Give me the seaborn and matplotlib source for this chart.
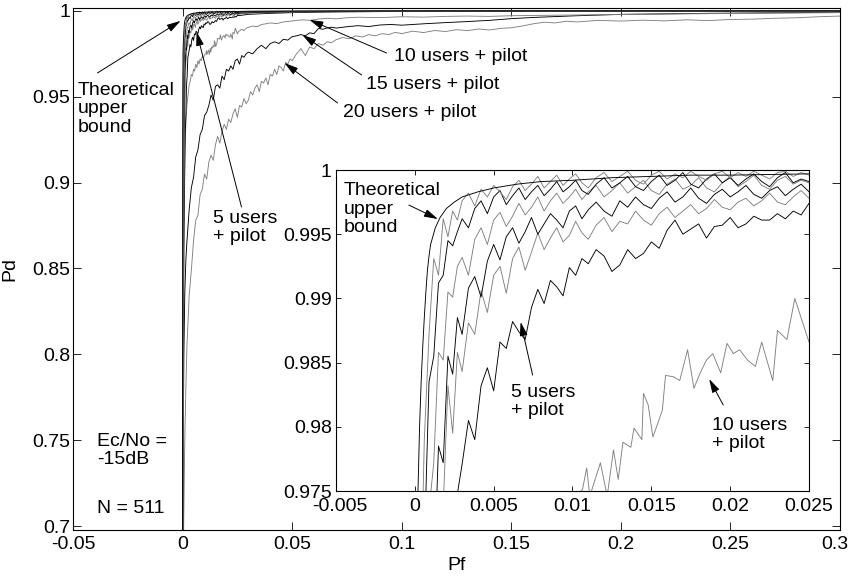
import matplotlib
matplotlib.use("Agg")
import matplotlib.pyplot as plt
import matplotlib.transforms as mtransforms
import seaborn as sns

# ---------------------------------------------------------------------------
# ROC data: probability of false alarm (Pf) vs probability of detection (Pd)
# ---------------------------------------------------------------------------

# Theoretical upper bound
pf_bound = [0.0, 0.00002, 0.00005, 0.0001, 0.0002, 0.0003, 0.0004, 0.0005, 0.0006, 0.0007,
            0.0008, 0.0009, 0.001, 0.0013, 0.0016, 0.002, 0.0025, 0.003, 0.004, 0.005,
            0.0065, 0.008, 0.01, 0.0125, 0.015, 0.0175, 0.02, 0.025, 0.03, 0.05,
            0.1, 0.2, 0.3]
pd_bound = [0.0, 0.80, 0.90, 0.95, 0.975, 0.9800, 0.9835, 0.9862, 0.9885, 0.9905,
            0.9922, 0.9933, 0.9942, 0.9955, 0.9963, 0.9970, 0.9975, 0.9979, 0.9983, 0.9986,
            0.9989, 0.9991, 0.9992, 0.9994, 0.9995, 0.9996, 0.9996, 0.9997, 0.9998, 0.9999,
            1.0, 1.0, 1.0]

# Common Pf thresholds for the lightly loaded cases (pilot only ... 5 users)
pf_grid = [0, 0.0003, 0.0006, 0.0009, 0.0012, 0.0015, 0.0018, 0.0021, 0.0024, 0.0027,
           0.003, 0.0034, 0.0038, 0.0042, 0.0046, 0.005, 0.0054, 0.0058, 0.0062, 0.0066,
           0.007, 0.0074, 0.0078, 0.0082, 0.0086, 0.009, 0.0094, 0.0098, 0.0102, 0.0106,
           0.011, 0.0115, 0.012, 0.0125, 0.013, 0.0135, 0.014, 0.0145, 0.015, 0.0155,
           0.016, 0.0165, 0.017, 0.0175, 0.018, 0.0185, 0.019, 0.0195, 0.02, 0.0205,
           0.021, 0.0215, 0.022, 0.0225, 0.023, 0.0235, 0.024, 0.0245, 0.025, 0.026,
           0.03, 0.04, 0.05, 0.07, 0.1, 0.15, 0.2, 0.25, 0.3]

pd_pilot = [0.0, 0.962, 0.979, 0.9872, 0.9931, 0.9918, 0.9962, 0.9948, 0.9968, 0.9961,
            0.9976, 0.9982, 0.9972, 0.9985, 0.9979, 0.9988, 0.9983, 0.9977, 0.9987, 0.9992,
            0.9984, 0.9989, 0.9995, 0.9986, 0.9991, 0.9996, 0.9988, 0.9993, 0.9997, 0.9990,
            0.9986, 0.9994, 0.9998, 0.9991, 0.9995, 0.9999, 0.9992, 0.9989, 0.9996, 0.9999,
            0.9993, 0.9997, 0.9994, 0.9999, 0.9995, 0.9992, 0.9997, 0.9999, 0.9994, 0.9998,
            0.9995, 0.9999, 0.9996, 0.9993, 0.9998, 0.9999, 0.9995, 0.9998, 0.9996, 0.9997,
            0.9998, 0.9999, 0.9999, 1.0, 1.0, 1.0, 1.0, 1.0, 1.0]

pd_1u = [0.0, 0.930, 0.9705, 0.9835, 0.9855, 0.9912, 0.9918, 0.9945, 0.9941, 0.9952,
         0.9962, 0.9955, 0.9970, 0.9976, 0.9966, 0.9979, 0.9984, 0.9973, 0.9980, 0.9986,
         0.9977, 0.9983, 0.9988, 0.9980, 0.9985, 0.9991, 0.9983, 0.9987, 0.9992, 0.9984,
         0.9981, 0.9989, 0.9994, 0.9986, 0.9990, 0.9995, 0.9987, 0.9984, 0.9991, 0.9996,
         0.9988, 0.9992, 0.9998, 0.9989, 0.9986, 0.9993, 0.9997, 0.9990, 0.9994, 0.9988,
         0.9993, 0.9997, 0.9991, 0.9987, 0.9994, 0.9998, 0.9990, 0.9993, 0.9991, 0.9993,
         0.9995, 0.9997, 0.9998, 0.9999, 1.0, 1.0, 1.0, 1.0, 1.0]

pd_2u = [0.0, 0.895, 0.952, 0.9735, 0.9772, 0.9858, 0.9852, 0.9905, 0.9901, 0.9925,
         0.9932, 0.9918, 0.9946, 0.9955, 0.9942, 0.9961, 0.9967, 0.9956, 0.9964, 0.9974,
         0.9965, 0.9971, 0.9979, 0.9968, 0.9976, 0.9982, 0.9974, 0.9979, 0.9985, 0.9977,
         0.9983, 0.9988, 0.9979, 0.9984, 0.9990, 0.9982, 0.9987, 0.9992, 0.9984, 0.9981,
         0.9989, 0.9993, 0.9985, 0.9988, 0.9994, 0.9986, 0.9983, 0.9990, 0.9995, 0.9987,
         0.9991, 0.9996, 0.9988, 0.9985, 0.9992, 0.9995, 0.9989, 0.9992, 0.9990, 0.9993,
         0.9994, 0.9996, 0.9997, 0.9998, 0.9999, 1.0, 1.0, 1.0, 1.0]

pd_3u = [0.0, 0.855, 0.926, 0.961, 0.9675, 0.9785, 0.9772, 0.9855, 0.9841, 0.9885,
         0.9872, 0.9908, 0.9917, 0.9901, 0.9929, 0.9942, 0.9930, 0.9948, 0.9955, 0.9943,
         0.9952, 0.9963, 0.9950, 0.9958, 0.9966, 0.9961, 0.9955, 0.9968, 0.9972, 0.9962,
         0.9969, 0.9975, 0.9968, 0.9964, 0.9976, 0.9971, 0.9979, 0.9973, 0.9970, 0.9978,
         0.9983, 0.9975, 0.9979, 0.9986, 0.9978, 0.9974, 0.9981, 0.9985, 0.9979, 0.9983,
         0.9988, 0.9981, 0.9978, 0.9984, 0.9987, 0.9980, 0.9985, 0.9989, 0.9983, 0.9987,
         0.9990, 0.9993, 0.9995, 0.9997, 0.9999, 1.0, 1.0, 1.0, 1.0]

pd_4u = [0.0, 0.825, 0.895, 0.938, 0.951, 0.9705, 0.9738, 0.9832, 0.9795, 0.9858,
         0.9843, 0.9881, 0.9872, 0.9906, 0.9889, 0.9918, 0.9925, 0.9904, 0.9931, 0.9940,
         0.9922, 0.9936, 0.9951, 0.9938, 0.9947, 0.9955, 0.9944, 0.9949, 0.9960, 0.9951,
         0.9946, 0.9957, 0.9963, 0.9952, 0.9960, 0.9958, 0.9968, 0.9961, 0.9957, 0.9966,
         0.9971, 0.9963, 0.9968, 0.9973, 0.9966, 0.9970, 0.9977, 0.9971, 0.9969, 0.9975,
         0.9978, 0.9972, 0.9976, 0.9982, 0.9975, 0.9973, 0.9979, 0.9984, 0.9978, 0.9982,
         0.9986, 0.9990, 0.9993, 0.9996, 0.9998, 0.9999, 1.0, 1.0, 1.0]

pd_5u = [0.0, 0.785, 0.862, 0.897, 0.928, 0.939, 0.957, 0.962, 0.9728, 0.9748,
         0.9771, 0.9805, 0.9790, 0.9832, 0.9846, 0.9828, 0.9866, 0.9861, 0.9882, 0.9874,
         0.9868, 0.9893, 0.9907, 0.9896, 0.9914, 0.9909, 0.9902, 0.9924, 0.9918, 0.9931,
         0.9927, 0.9938, 0.9933, 0.9921, 0.9926, 0.9938, 0.9931, 0.9935, 0.9944, 0.9939,
         0.9953, 0.9961, 0.9950, 0.9954, 0.9958, 0.9947, 0.9956, 0.9957, 0.9963, 0.9955,
         0.9958, 0.9964, 0.9961, 0.9961, 0.9966, 0.9962, 0.9968, 0.9965, 0.9974, 0.9973,
         0.9980, 0.9986, 0.9990, 0.9994, 0.9997, 0.9999, 1.0, 1.0, 1.0]

# 10 users + pilot
pf_10u = [0.0, 0.0003, 0.0006, 0.001, 0.0015, 0.002, 0.0025, 0.003, 0.0035, 0.004,
          0.0045, 0.005, 0.0055, 0.006, 0.0065, 0.007, 0.0075, 0.008, 0.0085, 0.009,
          0.0095, 0.010, 0.01063, 0.0109, 0.0111, 0.01177, 0.0122, 0.0126, 0.0129, 0.0132,
          0.0137, 0.0139, 0.0144, 0.0145, 0.0148, 0.0151, 0.0157, 0.0159, 0.0164, 0.0168,
          0.0173, 0.0177, 0.0181, 0.0185, 0.0189, 0.0194, 0.0198, 0.0202, 0.0206, 0.0211,
          0.0216, 0.0220, 0.0227, 0.0230, 0.0236, 0.0241, 0.0250, 0.0255, 0.027, 0.028,
          0.029, 0.030, 0.032, 0.034, 0.036, 0.038, 0.040, 0.043, 0.046, 0.049,
          0.052, 0.055, 0.058, 0.062, 0.066, 0.070, 0.075, 0.080, 0.090, 0.100,
          0.110, 0.120, 0.130, 0.140, 0.150, 0.170, 0.190, 0.210, 0.230, 0.250,
          0.270, 0.300]
pd_10u = [0.0, 0.80, 0.875, 0.915, 0.935, 0.945, 0.951, 0.957, 0.959, 0.963,
          0.962, 0.966, 0.965, 0.969, 0.967, 0.971, 0.969, 0.972, 0.971, 0.9735,
          0.9725, 0.9745, 0.9751, 0.9768, 0.9746, 0.9772, 0.9746, 0.9782, 0.9759, 0.9788,
          0.9784, 0.9799, 0.9790, 0.9826, 0.9817, 0.9792, 0.9813, 0.9840, 0.9839, 0.9836,
          0.9860, 0.9830, 0.9842, 0.9852, 0.9857, 0.9842, 0.9865, 0.9857, 0.9860, 0.9852,
          0.9847, 0.9866, 0.9836, 0.9875, 0.9868, 0.9900, 0.9866, 0.9880, 0.9893, 0.9885,
          0.9899, 0.9904, 0.9912, 0.9908, 0.9921, 0.9925, 0.9930, 0.9926, 0.9936, 0.9940,
          0.9945, 0.9948, 0.9945, 0.9953, 0.9957, 0.9954, 0.9960, 0.9963, 0.9961, 0.9966,
          0.9964, 0.9968, 0.9970, 0.9968, 0.9972, 0.9975, 0.9978, 0.9980, 0.9983, 0.9985,
          0.9987, 0.9990]

# 15 users + pilot
pf_15u = [0.0, 0.0003, 0.0006, 0.001, 0.0015, 0.002, 0.003, 0.004, 0.005, 0.006,
          0.007, 0.008, 0.009, 0.010, 0.011, 0.012, 0.013, 0.014, 0.015, 0.016,
          0.017, 0.018, 0.019, 0.020, 0.021, 0.022, 0.023, 0.024, 0.025, 0.026,
          0.027, 0.028, 0.029, 0.030, 0.032, 0.034, 0.036, 0.038, 0.040, 0.042,
          0.044, 0.046, 0.048, 0.050, 0.052, 0.054, 0.056, 0.058, 0.060, 0.062,
          0.064, 0.066, 0.068, 0.070, 0.075, 0.080, 0.085, 0.090, 0.095, 0.100,
          0.110, 0.120, 0.130, 0.140, 0.150, 0.160, 0.170, 0.180, 0.190, 0.200,
          0.220, 0.240, 0.260, 0.280, 0.300]
pd_15u = [0.0, 0.75, 0.80, 0.835, 0.855, 0.866, 0.884, 0.897, 0.903, 0.915,
          0.919, 0.928, 0.931, 0.939, 0.941, 0.945, 0.951, 0.948, 0.956, 0.957,
          0.955, 0.962, 0.960, 0.966, 0.965, 0.968, 0.966, 0.971, 0.972, 0.969,
          0.974, 0.973, 0.975, 0.976, 0.975, 0.978, 0.980, 0.978, 0.981, 0.982,
          0.981, 0.9835, 0.983, 0.985, 0.9855, 0.9862, 0.9855, 0.9872, 0.9868, 0.9898,
          0.9893, 0.9901, 0.9905, 0.9900, 0.9908, 0.9914, 0.9909, 0.9918, 0.9921, 0.9917,
          0.9925, 0.9932, 0.9938, 0.9945, 0.9955, 0.9962, 0.9967, 0.9972, 0.9976, 0.9980,
          0.9983, 0.9986, 0.9988, 0.9990, 0.9992]

# 20 users + pilot
pf_20u = [0.0, 0.0005, 0.001, 0.0015, 0.002, 0.003, 0.004, 0.005, 0.006, 0.007,
          0.008, 0.009, 0.010, 0.011, 0.012, 0.013, 0.014, 0.015, 0.016, 0.017,
          0.018, 0.019, 0.020, 0.021, 0.022, 0.023, 0.024, 0.025, 0.026, 0.027,
          0.028, 0.029, 0.030, 0.031, 0.032, 0.033, 0.034, 0.035, 0.036, 0.037,
          0.038, 0.039, 0.040, 0.041, 0.042, 0.043, 0.044, 0.045, 0.046, 0.047,
          0.048, 0.049, 0.050, 0.052, 0.054, 0.056, 0.058, 0.060, 0.062, 0.064,
          0.066, 0.068, 0.070, 0.073, 0.076, 0.079, 0.082, 0.085, 0.088, 0.091,
          0.094, 0.097, 0.100, 0.105, 0.110, 0.115, 0.120, 0.125, 0.130, 0.135,
          0.140, 0.145, 0.150, 0.155, 0.160, 0.165, 0.170, 0.175, 0.180, 0.190,
          0.200, 0.210, 0.220, 0.230, 0.240, 0.250, 0.260, 0.270, 0.280, 0.290,
          0.300]
pd_20u = [0.0, 0.70, 0.75, 0.78, 0.805, 0.834, 0.849, 0.866, 0.878, 0.881,
          0.893, 0.896, 0.905, 0.902, 0.912, 0.916, 0.913, 0.922, 0.927, 0.923,
          0.930, 0.934, 0.931, 0.937, 0.935, 0.940, 0.943, 0.938, 0.945, 0.944,
          0.949, 0.946, 0.948, 0.953, 0.951, 0.955, 0.957, 0.953, 0.959, 0.958,
          0.961, 0.957, 0.963, 0.962, 0.966, 0.963, 0.968, 0.967, 0.965, 0.970,
          0.969, 0.972, 0.971, 0.975, 0.978, 0.974, 0.979, 0.978, 0.981, 0.980,
          0.982, 0.9815, 0.9832, 0.9845, 0.9838, 0.9855, 0.9848, 0.9862, 0.9855, 0.9868,
          0.9862, 0.9875, 0.9868, 0.9882, 0.9874, 0.9886, 0.9880, 0.9891, 0.9885, 0.9895,
          0.9889, 0.9898, 0.9902, 0.9912, 0.9925, 0.9934, 0.9930, 0.9940, 0.9936, 0.9945,
          0.9941, 0.9946, 0.9942, 0.9948, 0.9944, 0.9950, 0.9952, 0.9957, 0.9960, 0.9966,
          0.9970]

# Axis ticks
main_xticks = [-0.05, 0, 0.05, 0.1, 0.15, 0.2, 0.25, 0.3]
main_xlabels = ["-0.05", "0", "0.05", "0.1", "0.15", "0.2", "0.25", "0.3"]
main_yticks = [0.7, 0.75, 0.8, 0.85, 0.9, 0.95, 1.0]
main_ylabels = ["0.7", "0.75", "0.8", "0.85", "0.9", "0.95", "1"]
zoom_xticks = [-0.005, 0, 0.005, 0.01, 0.015, 0.02, 0.025]
zoom_xlabels = ["-0.005", "0", "0.005", "0.01", "0.015", "0.02", "0.025"]
zoom_yticks = [0.975, 0.98, 0.985, 0.99, 0.995, 1.0]
zoom_ylabels = ["0.975", "0.98", "0.985", "0.99", "0.995", "1"]

# ---------------------------------------------------------------------------
BLACK = "#000000"
GRAY = "#808080"
LW = 0.65

curves = [
    (pf_20u, pd_20u, GRAY),
    (pf_15u, pd_15u, BLACK),
    (pf_10u, pd_10u, GRAY),
    (pf_grid, pd_5u, BLACK),
    (pf_grid, pd_4u, GRAY),
    (pf_grid, pd_3u, BLACK),
    (pf_grid, pd_2u, GRAY),
    (pf_grid, pd_1u, BLACK),
    (pf_grid, pd_pilot, GRAY),
    (pf_bound, pd_bound, BLACK),
]

sns.set_theme(style="ticks")
plt.rcParams.update({
    "font.family": ["Liberation Sans", "DejaVu Sans"],
    "font.size": 14,
    "text.color": "black",
    "axes.labelcolor": "black",
    "axes.edgecolor": "black",
    "axes.linewidth": 0.8,
    "xtick.color": "black",
    "ytick.color": "black",
})

W, H = 849, 578
fig = plt.figure(figsize=(W / 100, H / 100), dpi=100)
fig.patch.set_facecolor("white")
ax = fig.add_axes([73 / W, 48 / H, 767 / W, 522 / H])
axin = fig.add_axes([336 / W, 87 / H, 473 / W, 321 / H])
axin.set_zorder(5)

for a in (ax, axin):
    a.set_facecolor("white")
    for pf, pd_, col in curves:
        sns.lineplot(x=pf, y=pd_, ax=a, color=col, linewidth=LW,
                     estimator=None, sort=False, legend=False)

# Main axes
ax.set_xlim(-0.05, 0.3)
ax.set_ylim(0.6977, 1.0017)
ax.set_xticks(main_xticks)
ax.set_xticklabels(main_xlabels)
ax.set_yticks(main_yticks)
ax.set_yticklabels(main_ylabels)
ax.tick_params(direction="in", length=5.5, width=0.6, top=True, right=True,
               labelsize=14)
ax.tick_params(axis="x", pad=4)
ax.tick_params(axis="y", pad=2)
ax.set_xlabel("Pf", fontsize=14)
ax.set_ylabel("Pd", fontsize=14)
ax.xaxis.set_label_coords(0.5, -0.052)
ax.yaxis.set_label_coords(-0.071, 0.5)
# keep the last x label inside the canvas
last = ax.get_xticklabels()[-1]
last.set_transform(last.get_transform() +
                   mtransforms.ScaledTranslation(-5 / 100, 0, fig.dpi_scale_trans))

# Inset (zoom on the knee of the curves)
axin.set_xlim(-0.005, 0.025)
axin.set_ylim(0.975, 1.0)
axin.set_xticks(zoom_xticks)
axin.set_xticklabels(zoom_xlabels)
axin.set_yticks(zoom_yticks)
axin.set_yticklabels(zoom_ylabels)
axin.tick_params(direction="in", length=3.5, width=0.6, top=True, right=True,
                 labelsize=14)
axin.tick_params(axis="x", pad=5)
axin.tick_params(axis="y", pad=3)
axin.set_xlabel("")
axin.set_ylabel("")
first = axin.get_xticklabels()[0]
first.set_transform(first.get_transform() +
                    mtransforms.ScaledTranslation(4 / 100, 0, fig.dpi_scale_trans))


def arrow(a, tail, head):
    a.annotate("", xy=head, xytext=tail,
               arrowprops=dict(arrowstyle="-|>,head_length=0.6,head_width=0.17",
                               lw=0.7, color="black", shrinkA=0, shrinkB=0,
                               mutation_scale=14))


txt = dict(fontsize=14, ha="left", va="center", linespacing=1.1)

# Main-plot labels
ax.text(-0.0479, 0.9429, "Theoretical\nupper\nbound", **txt)
arrow(ax, (-0.0388, 0.9639), (-0.0009, 0.9942))
ax.text(0.0967, 0.9732, "10 users + pilot", **txt)
arrow(ax, (0.0931, 0.9755), (0.0579, 0.9948))
ax.text(0.0839, 0.9569, "15 users + pilot", **txt)
arrow(ax, (0.0817, 0.9627), (0.0547, 0.9860))
ax.text(0.0730, 0.9411, "20 users + pilot", **txt)
arrow(ax, (0.0707, 0.9464), (0.0465, 0.9697))
ax.text(0.0137, 0.8740, "5 users\n+ pilot", **txt)
arrow(ax, (0.0269, 0.8858), (0.0064, 0.9878))
ax.text(-0.0392, 0.7442, "Ec/No =\n-15dB", **txt)
ax.text(-0.0392, 0.7104, "N = 511", **txt)

# Inset labels
axin.text(-0.00449, 0.99696, "Theoretical\nupper\nbound", **txt)
arrow(axin, (-0.00038, 0.99727), (0.00146, 0.99618))
axin.text(0.00608, 0.98197, "5 users\n+ pilot", **txt)
arrow(axin, (0.00747, 0.98403), (0.00671, 0.98816))
axin.text(0.01886, 0.97940, "10 users\n+ pilot", **txt)
arrow(axin, (0.01956, 0.98170), (0.01867, 0.98372))

fig.savefig("out.png", dpi=100)
